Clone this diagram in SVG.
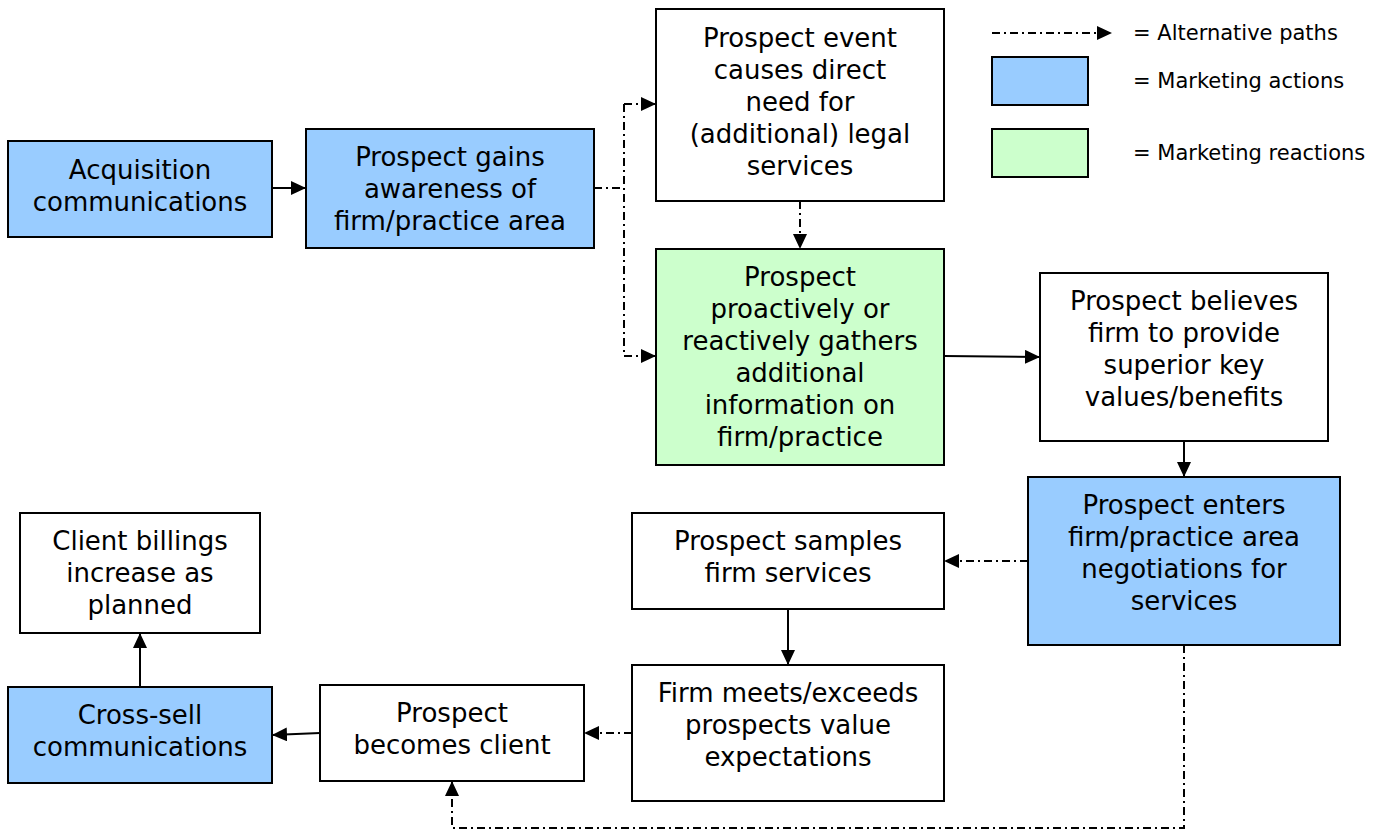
<svg xmlns="http://www.w3.org/2000/svg" width="1378" height="835" viewBox="0 0 1378 835">
<style>
rect{stroke:#000;stroke-width:2}
.b{fill:#99CCFF}.g{fill:#CCFFCC}.w{fill:#fff}
text{font-family:"DejaVu Sans",Verdana,sans-serif;font-size:26px;fill:#000;text-anchor:middle}
.lg{font-size:21px;text-anchor:start}
.s{fill:none;stroke:#000;stroke-width:2}
.d{fill:none;stroke:#000;stroke-width:2;stroke-dasharray:8 4 2 4}
</style>
<defs>
<marker id="ah" viewBox="0 0 15 14" refX="15" refY="7" markerWidth="15" markerHeight="14" markerUnits="userSpaceOnUse" orient="auto">
<path d="M0,0 L15,7 L0,14 Z" fill="#000"/>
</marker>
</defs>
<rect width="1378" height="835" fill="#fff" style="stroke:none"/>
<g id="legend">
<path class="d" d="M992,33 L1112,33" marker-end="url(#ah)"/>
<text class="lg" x="1133" y="40">= Alternative paths</text>
<rect class="b" x="992" y="57" width="96" height="48"/>
<text class="lg" x="1133" y="88">= Marketing actions</text>
<rect class="g" x="992" y="129" width="96" height="48"/>
<text class="lg" x="1133" y="160">= Marketing reactions</text>
</g>
<g id="connectors">
<path class="s" d="M272,188 L306,188" marker-end="url(#ah)"/>
<path class="d" d="M594,188 L624,188"/>
<path class="d" d="M624,104 L624,356"/>
<path class="d" d="M624,104 L656,104" marker-end="url(#ah)"/>
<path class="d" d="M624,356 L656,356" marker-end="url(#ah)"/>
<path class="d" d="M800,201 L800,249" marker-end="url(#ah)"/>
<path class="s" d="M944,356 L1040,357" marker-end="url(#ah)"/>
<path class="s" d="M1184,441 L1184,477" marker-end="url(#ah)"/>
<path class="d" d="M1028,561 L944,561" marker-end="url(#ah)"/>
<path class="s" d="M788,609 L788,665" marker-end="url(#ah)"/>
<path class="d" d="M632,733 L584,733" marker-end="url(#ah)"/>
<path class="s" d="M320,733 L272,735" marker-end="url(#ah)"/>
<path class="s" d="M140,687 L140,633" marker-end="url(#ah)"/>
<path class="d" d="M1184,645 L1184,828 L452,828 L452,781" marker-end="url(#ah)"/>
</g>
<g id="n1"><rect class="b" x="8" y="141" width="264" height="96"/>
<text x="140" y="179">Acquisition</text><text x="140" y="211">communications</text></g>
<g id="n2"><rect class="b" x="306" y="129" width="288" height="119"/>
<text x="450" y="166">Prospect gains</text><text x="450" y="198">awareness of</text><text x="450" y="230">firm/practice area</text></g>
<g id="n3"><rect class="w" x="656" y="9" width="288" height="192"/>
<text x="800" y="47">Prospect event</text><text x="800" y="79">causes direct</text><text x="800" y="111">need for</text><text x="800" y="143">(additional) legal</text><text x="800" y="175">services</text></g>
<g id="n4"><rect class="g" x="656" y="249" width="288" height="216"/>
<text x="800" y="286">Prospect</text><text x="800" y="318">proactively or</text><text x="800" y="350">reactively gathers</text><text x="800" y="382">additional</text><text x="800" y="414">information on</text><text x="800" y="446">firm/practice</text></g>
<g id="n5"><rect class="w" x="1040" y="273" width="288" height="168"/>
<text x="1184" y="310">Prospect believes</text><text x="1184" y="342">firm to provide</text><text x="1184" y="374">superior key</text><text x="1184" y="406">values/benefits</text></g>
<g id="n6"><rect class="b" x="1028" y="477" width="312" height="168"/>
<text x="1184" y="514">Prospect enters</text><text x="1184" y="546">firm/practice area</text><text x="1184" y="578">negotiations for</text><text x="1184" y="610">services</text></g>
<g id="n7"><rect class="w" x="632" y="513" width="312" height="96"/>
<text x="788" y="550">Prospect samples</text><text x="788" y="582">firm services</text></g>
<g id="n8"><rect class="w" x="632" y="665" width="312" height="136"/>
<text x="788" y="702">Firm meets/exceeds</text><text x="788" y="734">prospects value</text><text x="788" y="766">expectations</text></g>
<g id="n9"><rect class="w" x="320" y="685" width="264" height="96"/>
<text x="452" y="722">Prospect</text><text x="452" y="754">becomes client</text></g>
<g id="n10"><rect class="b" x="8" y="687" width="264" height="96"/>
<text x="140" y="724">Cross-sell</text><text x="140" y="756">communications</text></g>
<g id="n11"><rect class="w" x="20" y="513" width="240" height="120"/>
<text x="140" y="550">Client billings</text><text x="140" y="582">increase as</text><text x="140" y="614">planned</text></g>
</svg>
